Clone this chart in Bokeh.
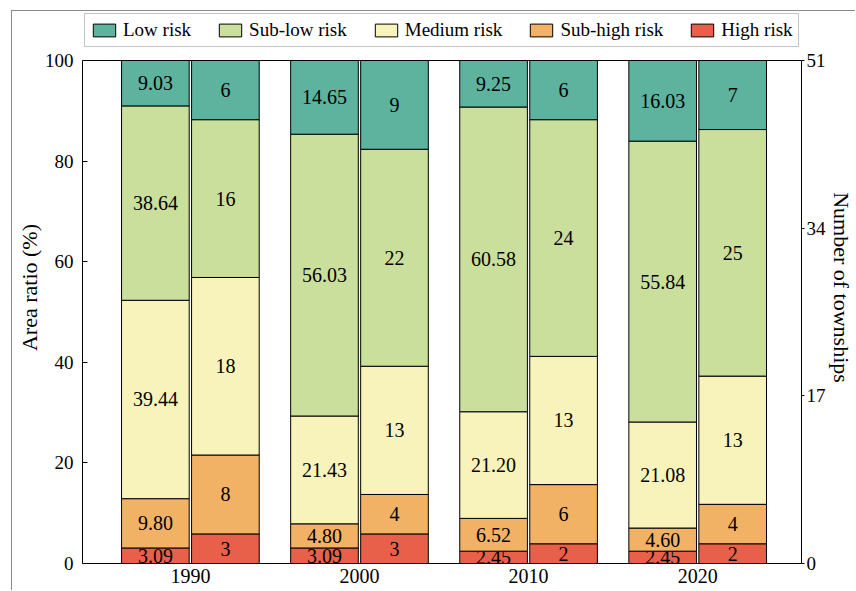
import numpy as np
from bokeh.plotting import figure
from bokeh.models import (Range1d, LinearAxis, FixedTicker, ColumnDataSource,
                          Legend, LegendItem, Span)
from bokeh.core.properties import value
from bokeh.embed import file_html
from bokeh.resources import INLINE

years = ["1990", "2000", "2010", "2020"]
levels = ["High risk", "Sub-high risk", "Medium risk", "Sub-low risk", "Low risk"]
colors = ["#e8604a", "#f2b266", "#f7f3bb", "#c9df9b", "#5db39d"]

area_high = [3.09, 3.09, 2.45, 2.45]
area_subhigh = [9.80, 4.80, 6.52, 4.60]
area_medium = [39.44, 21.43, 21.20, 21.08]
area_sublow = [38.64, 56.03, 60.58, 55.84]
area_low = [9.03, 14.65, 9.25, 16.03]

town_high = [3, 3, 2, 2]
town_subhigh = [8, 4, 6, 4]
town_medium = [18, 13, 13, 13]
town_sublow = [16, 22, 24, 25]
town_low = [6, 9, 6, 7]

area_ticks = [0, 20, 40, 60, 80, 100]
town_ticks = [0, 17, 34, 51]

area = [area_high, area_subhigh, area_medium, area_sublow, area_low]
towns = [town_high, town_subhigh, town_medium, town_sublow, town_low]

FONT = "Liberation Serif"
xc = np.arange(1, len(years) + 1)
off = 0.207
bw = 0.40

# frame extends above the plot box to leave room for the legend
FRAME_H = 552
BOX_H = 503
ymax = 100 * FRAME_H / BOX_H
tmax = 51 * FRAME_H / BOX_H

p = figure(width=844, height=580,
           x_range=Range1d(0.362, 4.614), y_range=Range1d(0, ymax),
           output_backend="svg", toolbar_location=None,
           min_border_left=70, min_border_right=54, min_border_top=0,
           min_border_bottom=28, margin=(10, 0, 0, 11))
p.styles = {"border-top": "1px solid #8a8a8a", "border-left": "1px solid #8a8a8a"}
p.extra_y_ranges = {"towns": Range1d(0, tmax)}
p.xgrid.visible = False
p.ygrid.visible = False
p.outline_line_color = None
p.background_fill_color = "white"

area_r = []
bot_a = np.zeros(len(years))
bot_t = np.zeros(len(years))
for lvl, col, a, t in zip(levels, colors, area, towns):
    a = np.array(a, dtype=float)
    t = np.array(t, dtype=float)
    src_a = ColumnDataSource(dict(x=xc - off, bottom=bot_a, top=bot_a + a,
                                  ym=bot_a + a / 2, lab=["%.2f" % v for v in a]))
    src_t = ColumnDataSource(dict(x=xc + off, bottom=bot_t, top=bot_t + t,
                                  ym=bot_t + t / 2, lab=["%d" % v for v in t]))
    r = p.vbar(x="x", bottom="bottom", top="top", width=bw, source=src_a,
               fill_color=col, line_color="black", line_width=1)
    p.vbar(x="x", bottom="bottom", top="top", width=bw, source=src_t,
           fill_color=col, line_color="black", line_width=1, y_range_name="towns")
    p.text(x="x", y="ym", text="lab", source=src_a, text_align="center",
           text_baseline="middle", text_font=value(FONT), text_font_size="20px",
           text_color="black")
    p.text(x="x", y="ym", text="lab", source=src_t, text_align="center",
           text_baseline="middle", text_font=value(FONT), text_font_size="20px",
           text_color="black", y_range_name="towns")
    area_r.append(r)
    bot_a = bot_a + a
    bot_t = bot_t + t

# top edge of the plot box
p.add_layout(Span(location=area_ticks[-1], dimension="width",
                  line_color="black", line_width=1))

# x axis
xa = p.xaxis[0]
xa.ticker = FixedTicker(ticks=list(xc))
xa.major_label_overrides = {int(i): y for i, y in zip(xc, years)}
xa.major_tick_in = 0
xa.major_tick_out = 0
xa.minor_tick_line_color = None
xa.axis_line_color = "black"
xa.major_label_text_font = FONT
xa.major_label_text_font_size = "20px"
xa.major_label_text_color = "black"
xa.major_label_standoff = 5

# left axis
ya = p.yaxis[0]
ya.ticker = FixedTicker(ticks=area_ticks)
ya.bounds = (area_ticks[0], area_ticks[-1])
ya.major_tick_in = 5
ya.major_tick_out = 0
ya.minor_tick_line_color = None
ya.axis_line_color = "black"
ya.major_label_text_font = FONT
ya.major_label_text_font_size = "19px"
ya.major_label_text_color = "black"
ya.major_label_standoff = 9
ya.axis_label = "Area ratio (%)"
ya.axis_label_text_font = FONT
ya.axis_label_text_font_size = "22px"
ya.axis_label_text_font_style = "normal"
ya.axis_label_text_color = "black"
ya.axis_label_standoff = 0

# right axis
ra = LinearAxis(y_range_name="towns", ticker=FixedTicker(ticks=town_ticks),
                axis_label="Number of townships",
                bounds=(town_ticks[0], town_ticks[-1]))
ra.major_tick_in = 0
ra.major_tick_out = 3
ra.minor_tick_line_color = None
ra.axis_line_color = "black"
ra.major_label_text_font = FONT
ra.major_label_text_font_size = "19px"
ra.major_label_text_color = "black"
ra.major_label_standoff = 2
ra.axis_label_text_font = FONT
ra.axis_label_text_font_size = "22px"
ra.axis_label_text_font_style = "normal"
ra.axis_label_text_color = "black"
ra.axis_label_standoff = 0
p.add_layout(ra, "right")

items = [LegendItem(label=lvl, renderers=[r]) for lvl, r in zip(levels, area_r)][::-1]
legend = Legend(items=items, orientation="horizontal", location=(2, 516),
                border_line_color="#8a8a8a", border_line_width=1,
                label_text_font=FONT, label_text_font_size="19px",
                label_text_color="black", glyph_width=28, glyph_height=16,
                label_standoff=5, spacing=25, padding=5, margin=0,
                background_fill_alpha=1.0)
p.add_layout(legend, "center")

open("out.html", "w").write(file_html(p, INLINE))
